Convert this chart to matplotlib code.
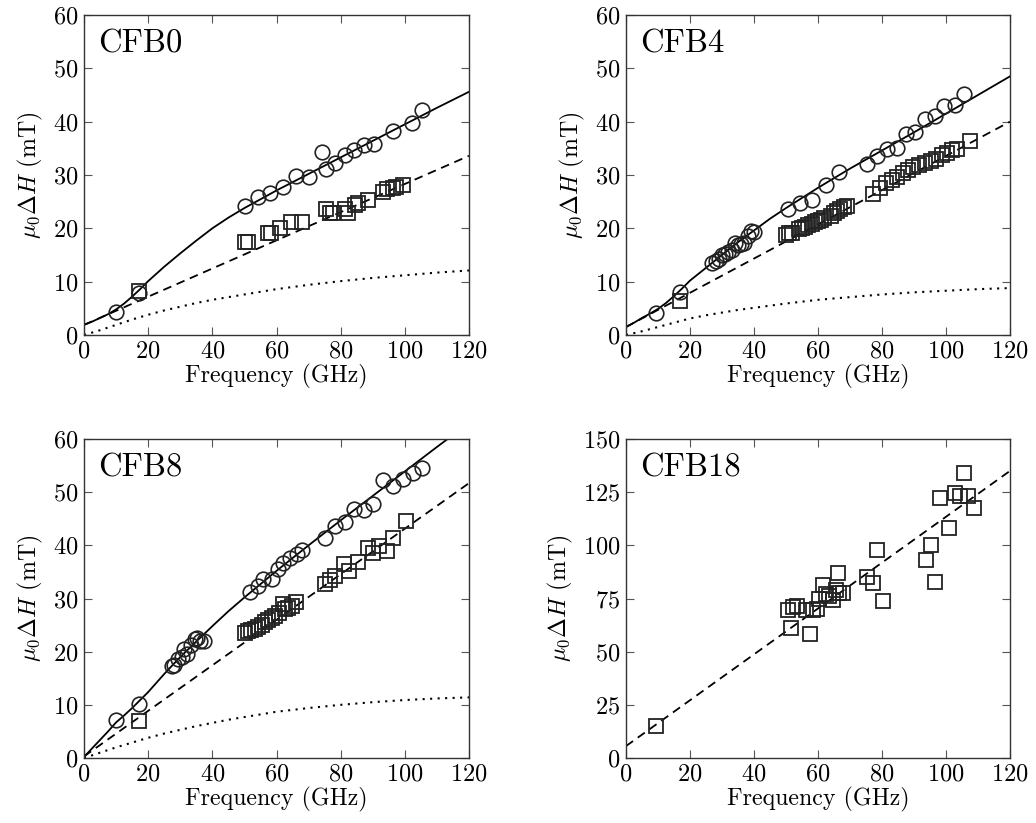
import matplotlib
matplotlib.use("Agg")
import matplotlib.pyplot as plt

plt.rcParams['font.family'] = ['cmr10', 'DejaVu Serif']
plt.rcParams['mathtext.fontset'] = 'cm'
plt.rcParams['axes.formatter.use_mathtext'] = True

# ---------------- data ----------------
panel_names = ["CFB0", "CFB4", "CFB8", "CFB18"]

# CFB0
cfb0_circ_f = [9.9, 17.0, 50.2, 54.3, 58.1, 62.1, 66.2, 70.2, 74.2, 75.3, 78.2, 81.3, 84.2, 87.2, 90.3, 96.2, 102.2, 105.2]
cfb0_circ_v = [4.4, 7.8, 24.2, 25.8, 26.7, 27.7, 29.8, 29.6, 34.4, 31.1, 32.3, 33.7, 34.6, 35.6, 35.9, 38.3, 39.7, 42.2]
cfb0_sq_f = [17.0, 50.2, 51.2, 57.4, 58.4, 61.0, 64.4, 67.8, 75.3, 76.6, 77.7, 81.3, 82.3, 84.4, 85.5, 88.6, 93.2, 94.3, 96.4, 97.4, 99.3]
cfb0_sq_v = [8.2, 17.5, 17.5, 19.1, 19.1, 20.0, 21.1, 21.1, 23.6, 22.8, 22.9, 23.7, 22.8, 24.4, 24.7, 25.4, 26.9, 27.3, 27.5, 27.7, 28.1]

# CFB4
cfb4_circ_f = [9.5, 17.0, 27.0, 28.0, 29.0, 30.0, 31.0, 32.0, 33.0, 34.0, 35.0, 36.0, 37.0, 38.0, 39.0, 40.0,
               50.7, 54.4, 58.0, 62.4, 66.6, 75.4, 78.3, 81.5, 84.6, 87.5, 90.3, 93.4, 96.6, 99.5, 102.8, 105.7]
cfb4_circ_v = [4.2, 8.0, 13.5, 13.8, 14.3, 15.0, 15.2, 15.6, 16.0, 17.2, 16.8, 17.0, 17.2, 18.5, 19.5, 19.3,
               23.6, 24.8, 25.4, 28.1, 30.6, 32.0, 33.6, 34.9, 35.0, 37.7, 38.0, 40.5, 41.0, 43.0, 43.1, 45.2]
cfb4_sq_f = [17.0, 50.0, 51.0, 52.0, 54.0, 55.0, 56.0, 57.0, 58.0, 59.0, 60.0, 61.0, 62.0, 64.0, 65.0, 66.0, 67.0, 68.0, 69.0,
             77.3, 79.4, 81.3, 83.0, 84.8, 86.5, 88.2, 89.8, 91.7, 93.4, 95.2, 96.9, 98.6, 100.2, 101.8, 103.5, 107.5]
cfb4_sq_v = [6.3, 18.8, 19.1, 19.2, 19.8, 20.1, 20.3, 20.6, 20.9, 21.2, 21.4, 21.6, 21.9, 22.4, 22.9, 23.3, 23.6, 24.0, 24.2,
             26.5, 27.5, 28.5, 29.1, 29.7, 30.3, 31.0, 31.5, 31.9, 32.3, 32.7, 33.0, 33.8, 34.1, 34.6, 34.8, 36.3]

# CFB8
cfb8_circ_f = [9.9, 17.1, 27.3, 28.1, 29.4, 30.4, 31.2, 32.2, 33.5, 34.6, 35.3, 36.3, 37.4,
               51.7, 54.3, 55.9, 58.5, 60.5, 62.1, 64.2, 66.3, 68.1, 75.1, 78.2, 81.3, 84.1, 87.2, 90.1, 93.1, 96.2, 99.3, 102.4, 105.2]
cfb8_circ_v = [7.1, 10.1, 17.3, 17.5, 18.6, 19.0, 20.5, 19.5, 21.2, 22.3, 22.5, 22.1, 22.0,
               31.3, 32.3, 33.7, 33.6, 35.5, 36.6, 37.7, 38.3, 39.2, 41.4, 43.7, 44.3, 46.8, 46.6, 47.8, 52.3, 51.1, 52.5, 53.6, 54.5]
cfb8_sq_f = [17.0, 50.2, 51.2, 52.2, 53.3, 54.3, 55.4, 56.4, 57.4, 58.5, 59.5, 60.8, 61.9, 62.6, 63.6, 64.7, 66.0,
             75.1, 76.6, 78.2, 81.1, 82.6, 85.4, 88.6, 90.1, 92.0, 94.3, 96.2, 100.5]
cfb8_sq_v = [7.0, 23.5, 23.8, 24.1, 24.3, 24.7, 25.1, 25.5, 25.9, 26.4, 26.7, 27.2, 28.9, 28.0, 28.3, 28.6, 29.3,
             32.8, 33.5, 34.2, 36.5, 35.1, 36.8, 39.5, 38.6, 39.8, 39.0, 41.4, 44.5]

# CFB18
cfb18_sq_f = [9.5, 50.5, 51.5, 52.3, 53.3, 56.3, 57.5, 58.5, 59.6, 60.3, 61.5, 62.5, 63.5, 64.8, 65.6, 66.4, 66.7, 67.7,
              75.4, 77.1, 78.5, 80.2, 93.6, 95.2, 96.6, 98.1, 101.0, 102.8, 104.4, 105.6, 107.0, 108.8]
cfb18_sq_v = [15.0, 69.5, 60.9, 70.8, 71.3, 69.5, 58.3, 69.5, 70.0, 74.7, 81.4, 77.0, 76.3, 74.2, 78.9, 86.9, 77.8, 77.8,
              84.9, 82.2, 97.8, 73.9, 93.1, 100.0, 82.8, 122.4, 108.0, 124.4, 123.2, 133.8, 123.2, 117.7]

# fit curves
fit_f = [0, 2.5, 5, 7.5, 10, 12.5, 15, 17.5, 20, 25, 30, 35, 40, 45, 50, 60, 70, 80, 90, 100, 110, 120]
cfb0_solid = [1.9, 2.5, 3.2, 3.9, 4.8, 5.9, 7.2, 8.6, 10.1, 12.8, 15.3, 17.7, 20.0, 22.0, 23.8, 27.1, 30.2, 33.3, 36.4, 39.5, 42.6, 45.6]
cfb0_dot = [0.0, 0.45, 0.9, 1.4, 1.9, 2.4, 2.9, 3.35, 3.8, 4.6, 5.3, 6.0, 6.6, 7.1, 7.6, 8.6, 9.4, 10.1, 10.7, 11.2, 11.7, 12.1]
cfb4_solid = [1.5, 2.3, 3.2, 4.0, 4.9, 6.0, 7.3, 8.7, 10.2, 12.6, 15.0, 17.4, 19.6, 21.8, 23.8, 27.6, 31.2, 34.6, 38.0, 41.5, 45.0, 48.5]
cfb4_dot = [0.0, 0.35, 0.7, 1.1, 1.5, 1.9, 2.3, 2.7, 3.1, 3.7, 4.2, 4.7, 5.1, 5.5, 5.9, 6.6, 7.1, 7.6, 8.0, 8.3, 8.6, 8.8]
cfb8_solid = [0.2, 1.8, 3.4, 5.0, 6.7, 8.0, 9.4, 10.9, 12.4, 15.8, 19.0, 21.9, 24.8, 27.6, 30.2, 35.2, 40.0, 44.7, 49.3, 53.9, 58.5, 63.0]
cfb8_dot = [0.0, 0.5, 1.0, 1.5, 2.0, 2.45, 2.9, 3.35, 3.8, 4.6, 5.3, 6.0, 6.6, 7.2, 7.7, 8.7, 9.4, 10.0, 10.5, 10.9, 11.2, 11.4]

dash_f = [0, 120]
cfb0_dash = [1.9, 33.6]
cfb4_dash = [1.5, 40.0]
cfb8_dash = [0.3, 51.7]
cfb18_dash = [5.6, 135.0]

x_ticks = [0, 20, 40, 60, 80, 100, 120]
y_ticks_small = [0, 10, 20, 30, 40, 50, 60]
y_ticks_large = [0, 25, 50, 75, 100, 125, 150]

# ---------------- figure ----------------
fig = plt.figure(figsize=(10.36, 8.23), dpi=100)
W, H = 1036, 823
def box(l, t, r, b):
    return [l / W, 1 - b / H, (r - l) / W, (b - t) / H]

axes = [fig.add_axes(box(84, 15, 469, 335)),
        fig.add_axes(box(626, 15, 1010, 335)),
        fig.add_axes(box(84, 439, 469, 758)),
        fig.add_axes(box(626, 439, 1010, 758))]

lw = 1.3
dash_style = (0, (4.8, 3.2))
dot_style = (0, (1.0, 2.6))
circ_kw = dict(linestyle='none', marker='o', markersize=10.5, markerfacecolor='none',
               markeredgecolor='#222222', markeredgewidth=1.2, zorder=3)
sq_kw = dict(linestyle='none', marker='s', markersize=9.5, markerfacecolor='none',
             markeredgecolor='#222222', markeredgewidth=1.3, zorder=3)

series = [
    (cfb0_circ_f, cfb0_circ_v, cfb0_sq_f, cfb0_sq_v, cfb0_solid, cfb0_dot, cfb0_dash),
    (cfb4_circ_f, cfb4_circ_v, cfb4_sq_f, cfb4_sq_v, cfb4_solid, cfb4_dot, cfb4_dash),
    (cfb8_circ_f, cfb8_circ_v, cfb8_sq_f, cfb8_sq_v, cfb8_solid, cfb8_dot, cfb8_dash),
]

for i, ax in enumerate(axes):
    if i < 3:
        cf, cv, sf, sv, solid, dot, dash = series[i]
        ax.plot(fit_f, solid, color='black', lw=lw, zorder=2)
        ax.plot(dash_f, dash, color='black', lw=lw, linestyle=dash_style, zorder=2)
        ax.plot(fit_f, dot, color='black', lw=1.5, linestyle=dot_style, zorder=2)
        ax.plot(sf, sv, **sq_kw)
        ax.plot(cf, cv, **circ_kw)
        ax.set_ylim(0, 60)
        ax.set_yticks(y_ticks_small)
    else:
        ax.plot(dash_f, cfb18_dash, color='black', lw=lw, linestyle=dash_style, zorder=2)
        ax.plot(cfb18_sq_f, cfb18_sq_v, **sq_kw)
        ax.set_ylim(0, 150)
        ax.set_yticks(y_ticks_large)
    ax.set_xlim(0, 120)
    ax.set_xticks(x_ticks)
    ax.tick_params(direction='in', length=6, width=0.8, top=True, right=True,
                   labelsize=17.5, pad=4, color='#555555')
    for s in ax.spines.values():
        s.set_linewidth(1.0)
        s.set_color('#333333')
    ax.set_xlabel('Frequency (GHz)', fontsize=17.2, labelpad=1)
    ax.set_ylabel(r'$\mu_0\Delta H$ (mT)', fontsize=17.2, labelpad=6)
    ax.text(0.036, 0.955, panel_names[i], transform=ax.transAxes, fontsize=23.5,
            ha='left', va='top')

fig.savefig('out.png', dpi=100)
